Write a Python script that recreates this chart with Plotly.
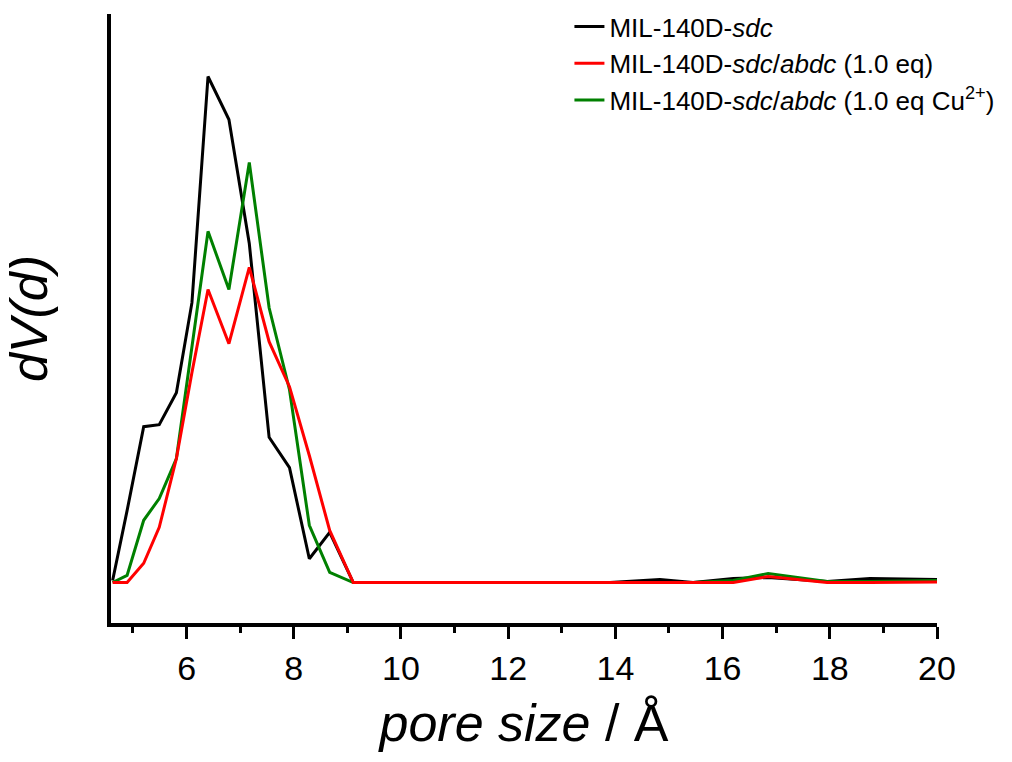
import plotly.graph_objects as go

# Pore size (Å) grid
pore_size = [4.62, 4.89, 5.20, 5.49, 5.81, 6.10, 6.40, 6.79, 7.17, 7.54, 7.92,
             8.29, 8.67, 9.11, 13.9, 14.83, 15.45, 16.2, 16.85, 17.95, 18.75, 20.0]

# dV(d), arbitrary units (normalised to the tallest peak)
dv_sdc = [0.004, 0.142, 0.308, 0.312, 0.375, 0.553, 1.000, 0.915, 0.670, 0.287, 0.227,
          0.047, 0.099, 0.0, 0.0, 0.006, 0.0, 0.008, 0.010, 0.002, 0.008, 0.006]
dv_abdc = [0.0, 0.0, 0.038, 0.109, 0.245, 0.415, 0.579, 0.472, 0.623, 0.476, 0.387,
           0.251, 0.103, 0.0, 0.0, 0.0, 0.0, 0.0, 0.012, 0.0, 0.0, 0.001]
dv_abdc_cu = [0.0, 0.014, 0.123, 0.166, 0.245, 0.468, 0.694, 0.579, 0.830, 0.543, 0.381,
              0.113, 0.020, 0.0, 0.0, 0.0, 0.0, 0.004, 0.018, 0.002, 0.002, 0.004]

names = [
    "MIL-140D-<i>sdc</i>",
    "MIL-140D-<i>sdc</i>/<i>abdc</i> (1.0 eq)",
    "MIL-140D-<i>sdc</i>/<i>abdc</i> (1.0 eq Cu<sup>2+</sup>)",
]

FONT = "Arial, 'Liberation Sans', sans-serif"

fig = go.Figure()
fig.add_trace(go.Scatter(x=pore_size, y=dv_sdc, mode="lines", name=names[0],
                         line=dict(color="#000000", width=3), legendrank=1))
fig.add_trace(go.Scatter(x=pore_size, y=dv_abdc_cu, mode="lines", name=names[2],
                         line=dict(color="#008000", width=3), legendrank=3))
fig.add_trace(go.Scatter(x=pore_size, y=dv_abdc, mode="lines", name=names[1],
                         line=dict(color="#ff0000", width=3), legendrank=2))

fig.update_layout(
    width=1012, height=762,
    margin=dict(l=111, r=75, t=14, b=139, autoexpand=False),
    paper_bgcolor="white", plot_bgcolor="white",
    font=dict(family=FONT, color="black"),
    showlegend=True,
    legend=dict(x=0.555, y=1.018, xanchor="left", yanchor="top",
                font=dict(size=26, family=FONT), bgcolor="rgba(0,0,0,0)",
                tracegroupgap=0),
    xaxis=dict(
        range=[4.59, 20.0], showline=True, linewidth=3.5, linecolor="black",
        ticks="outside", ticklen=12, tickwidth=3, tickcolor="black",
        tick0=0, dtick=2, showgrid=False, zeroline=False,
        tickfont=dict(size=34, family=FONT),
        minor=dict(ticks="outside", ticklen=6, tickwidth=3, tickcolor="black", dtick=1, tick0=0),
        title=dict(text="<i>pore size</i> / Å", font=dict(size=52, family=FONT), standoff=20),
    ),
    yaxis=dict(
        range=[-0.080, 1.1235], showline=True, linewidth=3.5, linecolor="black",
        ticks="", showticklabels=False, showgrid=False, zeroline=False,
        title=dict(text="<i>dV(d)</i>", font=dict(size=52, family=FONT), standoff=44),
    ),
)

fig.write_html("out.html")
